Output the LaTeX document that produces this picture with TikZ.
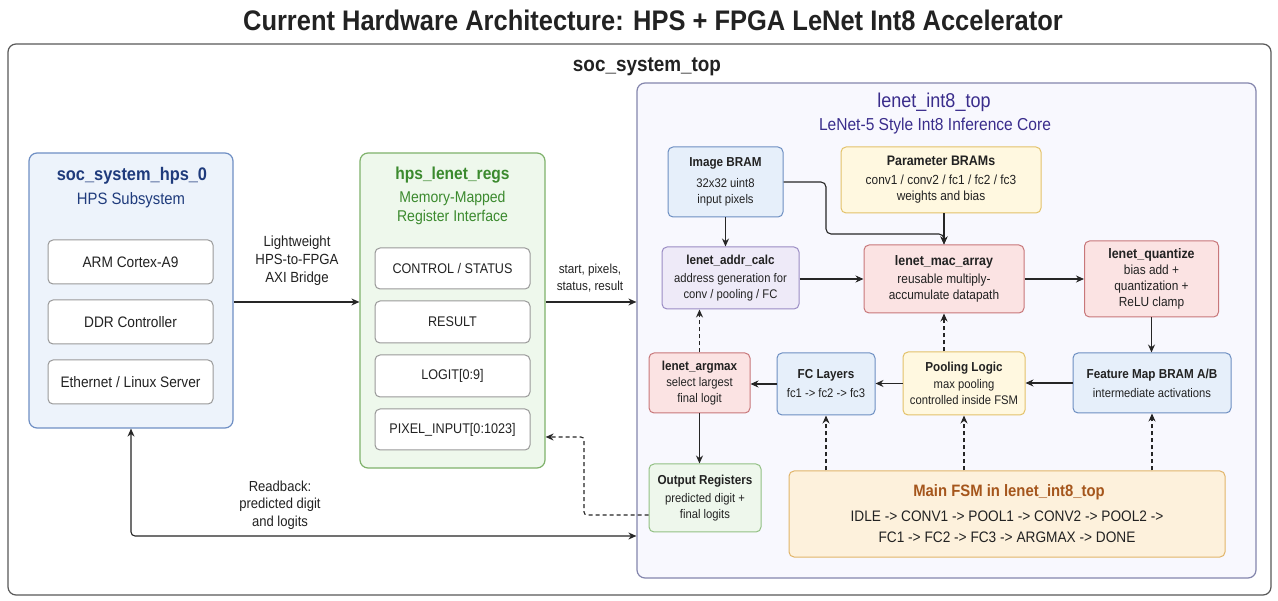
\documentclass[tikz,border=0pt]{standalone}
\usepackage{fontspec}
\setmainfont{Liberation Sans}[FakeStretch=0.9]
\usetikzlibrary{arrows.meta}
\definecolor{hpsFill}{HTML}{EDF3FB}
\definecolor{hpsDraw}{HTML}{6F8FC4}
\definecolor{hpsText}{HTML}{1F3B7C}
\definecolor{regFill}{HTML}{EEF8EC}
\definecolor{regDraw}{HTML}{7FB26B}
\definecolor{regText}{HTML}{3B8A2E}
\definecolor{lnFill}{HTML}{F8F8FE}
\definecolor{lnDraw}{HTML}{8486AD}
\definecolor{lnText}{HTML}{3A2D8C}
\definecolor{bluFill}{HTML}{E6EFFA}
\definecolor{bluDraw}{HTML}{6D8FC2}
\definecolor{yelFill}{HTML}{FFF8E0}
\definecolor{yelDraw}{HTML}{E3C26A}
\definecolor{purFill}{HTML}{EEEAF8}
\definecolor{purDraw}{HTML}{9A8CC4}
\definecolor{pnkFill}{HTML}{FBE3E3}
\definecolor{pnkDraw}{HTML}{C8777A}
\definecolor{grnFill}{HTML}{EEF7EC}
\definecolor{grnDraw}{HTML}{92C084}
\definecolor{orFill}{HTML}{FDF1DC}
\definecolor{orDraw}{HTML}{E1B56A}
\definecolor{orText}{HTML}{A5561C}
\definecolor{txt}{HTML}{222222}
\newcommand{\myfs}[2]{\fontsize{#1}{#2}\selectfont}
\newcommand{\bt}[1]{{\bfseries\myfs{13}{16}#1}}
\newcommand{\btl}[1]{{\bfseries\myfs{13.8}{16}#1}}
\tikzset{
  sz/.style 2 args={minimum width=#1pt, minimum height=#2pt},
  box/.style={draw, rounded corners=5pt, line width=1pt, align=center, inner sep=0pt, text=txt, font=\myfs{12.5}{16}},
  bigbody/.style={font=\myfs{13.2}{16}},
  wbox/.style={box, fill=white, draw=black!40},
  cont/.style={draw, rounded corners=8pt, line width=1.2pt, inner sep=0pt},
  lbl/.style={align=center, inner sep=0pt, text=txt},
  arr/.style={-{Stealth[length=8pt,width=7pt]}, line width=1.1pt, draw=black!85},
  darr/.style={{Stealth[length=8pt,width=7pt]}-{Stealth[length=8pt,width=7pt]}, line width=1.1pt, draw=black!85},
  dsh/.style={arr, dash pattern=on 4pt off 3pt},
}
\begin{document}
\begin{tikzpicture}[x=1pt,y=-1pt]
\useasboundingbox[fill=white] (0,0) rectangle (1278,601);

% title
\node[lbl, font=\bfseries\myfs{28.3}{30}] (title) at (653,20) {Current Hardware Architecture: HPS + FPGA LeNet Int8 Accelerator};

% outer container
\node[cont, draw=black!65, fill=white, sz={1263}{551}] (soc) at (639.5,319.5) {};
\node[lbl, font=\bfseries\myfs{21}{22}] (socT) at (647,67) {soc\_system\_top};

% HPS
\node[cont, draw=hpsDraw, fill=hpsFill, sz={204}{275}] (hps) at (131,290.5) {};
\node[lbl, text=hpsText, font=\bfseries\myfs{18.2}{20}] (hpsT) at (132,176) {soc\_system\_hps\_0};
\node[lbl, text=hpsText, font=\myfs{16.5}{18}] (hpsS) at (131,200) {HPS Subsystem};
\node[wbox, sz={165}{44}, font=\myfs{15.2}{17}] (arm) at (130.5,262) {ARM Cortex-A9};
\node[wbox, sz={165}{44}, font=\myfs{15.2}{17}] (ddr) at (130.5,322) {DDR Controller};
\node[wbox, sz={165}{44}, font=\myfs{15.2}{17}] (eth) at (130.5,382) {Ethernet / Linux Server};

% regs
\node[cont, draw=regDraw, fill=regFill, sz={185}{315}] (regs) at (452.5,310.5) {};
\node[lbl, text=regText, font=\bfseries\myfs{17.3}{19}] (regsT) at (452.5,175) {hps\_lenet\_regs};
\node[lbl, text=regText, font=\myfs{15.6}{18.5}] (regsS) at (452.5,208) {Memory-Mapped\\Register Interface};
\node[wbox, sz={155}{41}, font=\myfs{14}{16}] (ctrl) at (452.5,268.5) {CONTROL / STATUS};
\node[wbox, sz={155}{42}, font=\myfs{14}{16}] (res) at (452.5,322) {RESULT};
\node[wbox, sz={155}{42}, font=\myfs{14}{16}] (logit) at (452.5,376) {LOGIT[0:9]};
\node[wbox, sz={155}{41}, font=\myfs{14}{16}] (pix) at (452.5,429.5) {PIXEL\_INPUT[0:1023]};

% lenet top
\node[cont, draw=lnDraw, fill=lnFill, sz={619}{495}] (lenet) at (946.5,330.5) {};
\node[lbl, text=lnText, font=\myfs{20}{22}] (lnT) at (934,102) {lenet\_int8\_top};
\node[lbl, text=lnText, font=\myfs{17.3}{19}] (lnS) at (935,126) {LeNet-5 Style Int8 Inference Core};

\node[box, fill=bluFill, draw=bluDraw, sz={115}{70}] (img) at (725.5,182) {\bt{Image BRAM}\\[5pt]32x32 uint8\\input pixels};
\node[box, bigbody, fill=yelFill, draw=yelDraw, sz={200}{66}] (par) at (941,180) {\btl{Parameter BRAMs}\\[3pt]conv1 / conv2 / fc1 / fc2 / fc3\\weights and bias};
\node[box, fill=purFill, draw=purDraw, sz={137}{62}] (addr) at (730.5,278) {\bt{lenet\_addr\_calc}\\[2pt]address generation for\\conv / pooling / FC};
\node[box, bigbody, fill=pnkFill, draw=pnkDraw, sz={160}{68}] (mac) at (944,279) {\btl{lenet\_mac\_array}\\[2pt]reusable multiply-\\accumulate datapath};
\node[box, bigbody, fill=pnkFill, draw=pnkDraw, sz={134}{76}] (quant) at (1151.5,279) {\btl{lenet\_quantize}\\[0pt]bias add +\\quantization +\\ReLU clamp};
\node[box, fill=bluFill, draw=bluDraw, sz={158}{60}] (feat) at (1152,383) {\bt{Feature Map BRAM A/B}\\[3pt]intermediate activations};
\node[box, fill=yelFill, draw=yelDraw, sz={122}{63}] (pool) at (964,383.5) {\bt{Pooling Logic}\\[1pt]max pooling\\controlled inside FSM};
\node[box, fill=bluFill, draw=bluDraw, sz={98}{62}] (fc) at (826,384) {\bt{FC Layers}\\[3pt]fc1 -> fc2 -> fc3};
\node[box, fill=pnkFill, draw=pnkDraw, sz={101}{60}] (argm) at (699.5,383) {\bt{lenet\_argmax}\\[0pt]select largest\\final logit};
\node[box, fill=grnFill, draw=grnDraw, sz={112}{68}] (outr) at (705,498) {\bt{Output Registers}\\[2pt]predicted digit +\\final logits};
\node[box, fill=orFill, draw=orDraw, sz={436}{86}, font=\myfs{15.2}{21.5}] (fsm) at (1007,514) {{\bfseries\color{orText}\myfs{16.5}{17} Main FSM in lenet\_int8\_top}\\[3pt]IDLE -> CONV1 -> POOL1 -> CONV2 -> POOL2 ->\\FC1 -> FC2 -> FC3 -> ARGMAX -> DONE};

% edge labels
\node[lbl, font=\myfs{14.7}{18}] (lblAxi) at (297,261) {Lightweight\\HPS-to-FPGA\\AXI Bridge};
\node[lbl, font=\myfs{13}{16.5}] (lblSp) at (590,278) {start, pixels,\\status, result};
\node[lbl, font=\myfs{14.5}{17.5}] (lblRb) at (280,505) {Readback:\\predicted digit\\and logits};

% helper coordinates
\coordinate (yA) at (0,302);
\coordinate (yR) at (0,536);
\coordinate (yP) at (0,437);
\coordinate (yO) at (0,515);
\coordinate (xD) at (584,0);
\coordinate (k1) at (826,182);
\coordinate (yM) at (0,234);

% connectors
\draw[arr] (hps.east |- yA) -- (regs.west |- yA);
\draw[arr] (regs.east |- yA) -- (lenet.west |- yA);
\draw[darr, rounded corners=4pt] (hps.south) |- (lenet.west |- yR);
\draw[dsh, rounded corners=3pt] (outr.west |- yO) -| (xD |- yP) -- (regs.east |- yP);

\draw[arr] (img.south) -- (img.south |- addr.north);
\draw[arr, rounded corners=5pt] (img.east) -- (k1) |- (mac.north |- yM) -- (mac.north);
\draw[arr] (par.south -| mac.north) -- (mac.north);
\draw[arr] (addr.east |- mac.west) -- (mac.west);
\draw[arr] (mac.east) -- (quant.west);
\draw[arr] (quant.south) -- (quant.south |- feat.north);
\draw[arr] (feat.west) -- (feat.west -| pool.east);
\draw[arr] (pool.west) -- (pool.west -| fc.east);
\draw[arr] (fc.west) -- (fc.west -| argm.east);
\draw[dsh] (argm.north) -- (argm.north |- addr.south);
\draw[arr] (argm.south) -- (argm.south |- outr.north);
\draw[dsh] (mac.south |- pool.north) -- (mac.south);
\draw[dsh] (fc.south |- fsm.north) -- (fc.south);
\draw[dsh] (pool.south |- fsm.north) -- (pool.south);
\draw[dsh] (feat.south |- fsm.north) -- (feat.south);
\end{tikzpicture}
\end{document}
